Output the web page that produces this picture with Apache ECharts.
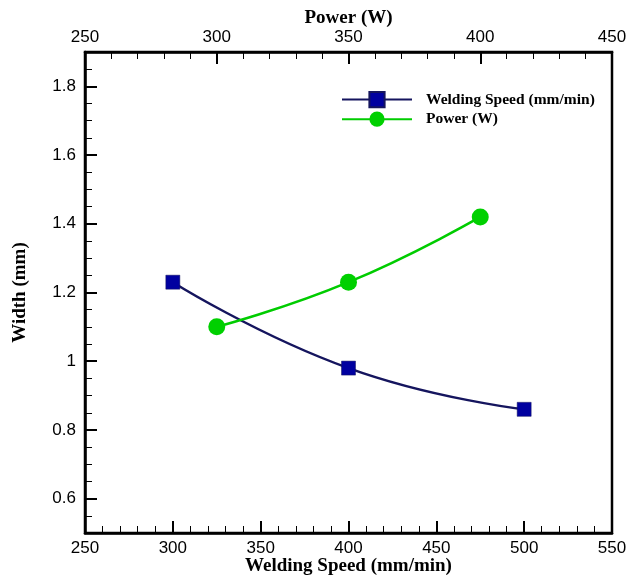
<!DOCTYPE html>
<html>
<head>
<meta charset="utf-8">
<script src="https://cdn.jsdelivr.net/npm/echarts@6/dist/echarts.min.js"></script>
<style>html,body{margin:0;padding:0;background:#fff}#c{width:640px;height:575px}</style>
</head>
<body>
<div id="c"></div>
<script>
const speedX = [300, 400, 500];
const speedWidth = [1.23, 0.98, 0.86];
const powerX = [300, 350, 400];
const powerWidth = [1.10, 1.23, 1.42];
const yTickValues = [0.6, 0.8, 1.0, 1.2, 1.4, 1.6, 1.8];
const seriesNames = ['Welding Speed (mm/min)', 'Power (W)'];

const chart = echarts.init(document.getElementById('c'), null, {renderer: 'canvas'});
const labelFont = {fontFamily: 'Liberation Sans', fontSize: 17, color: '#000'};
const titleFont = {fontFamily: 'Liberation Serif', fontSize: 19, fontWeight: 'bold', color: '#000'};

chart.setOption({
  animation: false,
  backgroundColor: '#fff',
  grid: {left: 85, right: 28, top: 52, bottom: 42, outerBoundsMode: 'none', containLabel: false,
         show: true, borderColor: '#000', borderWidth: 2.5, backgroundColor: 'transparent'},
  legend: {
    orient: 'vertical', left: 336, top: 86,
    itemWidth: 70, itemHeight: 19, itemGap: 3,
    data: seriesNames,
    textStyle: {fontFamily: 'Liberation Serif', fontSize: 15.5, fontWeight: 'bold', color: '#000', padding: [0, 0, 0, 9]}
  },
  xAxis: [
    {
      type: 'value', position: 'bottom', min: 250, max: 550, interval: 50,
      name: 'Welding Speed (mm/min)', nameLocation: 'middle', nameGap: 24, nameMoveOverlap: false, nameTextStyle: titleFont,
      axisLine: {show: true, lineStyle: {color: '#000', width: 2.5}},
      axisTick: {show: true, inside: true, length: 12, lineStyle: {color: '#000', width: 2}},
      minorTick: {show: true, splitNumber: 5, length: 7, lineStyle: {color: '#000', width: 1}},
      axisLabel: Object.assign({margin: 7}, labelFont),
      splitLine: {show: false}
    },
    {
      type: 'value', position: 'top', min: 250, max: 450, interval: 50,
      name: 'Power (W)', nameLocation: 'middle', nameGap: 24, nameMoveOverlap: false, nameTextStyle: titleFont,
      axisLine: {show: true, lineStyle: {color: '#000', width: 2.5}},
      axisTick: {show: true, inside: true, length: 12, lineStyle: {color: '#000', width: 2}},
      minorTick: {show: true, splitNumber: 5, length: 7, lineStyle: {color: '#000', width: 1}},
      axisLabel: Object.assign({margin: 6}, labelFont),
      splitLine: {show: false}
    }
  ],
  yAxis: [
    {
      type: 'value', position: 'left', min: 0.5, max: 1.9,
      name: 'Width (mm)', nameLocation: 'middle', nameGap: 55, nameMoveOverlap: false, nameRotate: 90, nameTextStyle: titleFont,
      axisLine: {show: true, lineStyle: {color: '#000', width: 2.5}},
      axisTick: {show: true, inside: true, length: 12, customValues: yTickValues, lineStyle: {color: '#000', width: 2}},
      axisLabel: Object.assign({margin: 9, customValues: yTickValues}, labelFont),
      splitLine: {show: false}
    },
    {
      type: 'value', position: 'left', min: 0.5, max: 1.9, interval: 0.05,
      axisLine: {show: false},
      axisTick: {show: true, inside: true, length: 7, lineStyle: {color: '#000', width: 1}},
      axisLabel: {show: false},
      splitLine: {show: false}
    }
  ],
  series: [
    {
      name: seriesNames[0], type: 'line', xAxisIndex: 0, yAxisIndex: 0,
      data: speedX.map((x, i) => [x, speedWidth[i]]),
      smooth: 0.5, symbol: 'rect', symbolSize: 14,
      lineStyle: {color: '#15155e', width: 2.5},
      itemStyle: {color: '#0000a0', borderColor: '#15155e', borderWidth: 0.5}
    },
    {
      name: seriesNames[1], type: 'line', xAxisIndex: 1, yAxisIndex: 0,
      data: powerX.map((x, i) => [x, powerWidth[i]]),
      smooth: 0.5, symbol: 'circle', symbolSize: 17,
      lineStyle: {color: '#00cc00', width: 2.5},
      itemStyle: {color: '#00d000'}
    }
  ]
});
</script>
</body>
</html>
